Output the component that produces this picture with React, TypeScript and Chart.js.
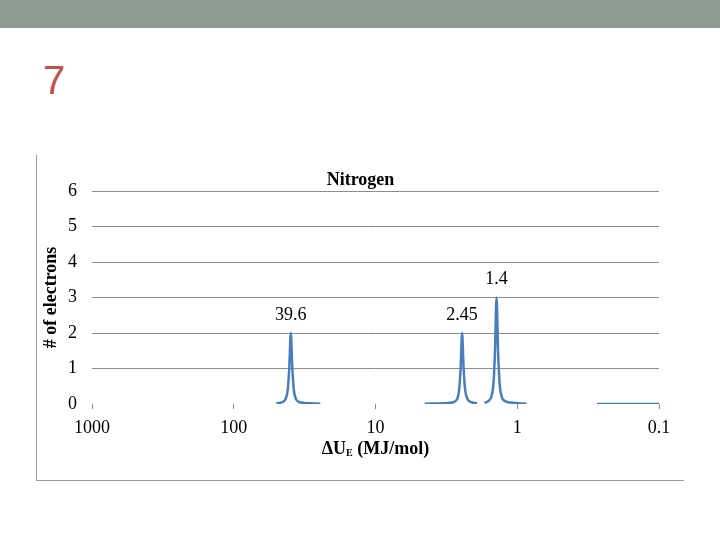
import React, { useEffect, useRef } from "react";
import { Chart, registerables } from "chart.js";

Chart.register(...registerables);

// ---- data ----
const slideNumber = "7";
const chartTitle = "Nitrogen";
const yAxisTitle = "# of electrons";
const xAxisTitleMain = "ΔU";
const xAxisTitleSub = "E";
const xAxisTitleRest = " (MJ/mol)";

const xTickValues = [1000, 100, 10, 1, 0.1];
const xTickLabels = ["1000", "100", "10", "1", "0.1"];
const yTickValues = [0, 1, 2, 3, 4, 5, 6];

// peak around 39.6 MJ/mol
const peak1X = [50, 45, 43, 41.6, 40.6, 39.6, 38.6, 37.7, 36.5, 34.8, 31.6, 24.5];
const peak1Y = [0.02, 0.06, 0.15, 0.4, 1.0, 2.0, 1.0, 0.4, 0.15, 0.06, 0.03, 0.01];
// peak around 2.45 MJ/mol
const peak2X = [4.5, 3.08, 2.79, 2.65, 2.57, 2.51, 2.45, 2.39, 2.33, 2.25, 2.14, 1.92];
const peak2Y = [0.01, 0.03, 0.06, 0.15, 0.4, 1.0, 2.0, 1.0, 0.4, 0.15, 0.06, 0.02];
// peak around 1.4 MJ/mol
const peak3X = [1.7, 1.594, 1.519, 1.47, 1.435, 1.4, 1.366, 1.333, 1.291, 1.229, 1.115, 0.86];
const peak3Y = [0.03, 0.09, 0.22, 0.6, 1.5, 3.0, 1.5, 0.6, 0.22, 0.09, 0.04, 0.01];
// flat tail near 0.1 MJ/mol
const tailX = [0.274, 0.1];
const tailY = [0.0, 0.0];

const peakLabelValues = [39.6, 2.45, 1.4];
const peakLabelHeights = [2, 2, 3];
const peakLabelTexts = ["39.6", "2.45", "1.4"];

const LINE_COLOR = "#4A7EBB";
const GRID_COLOR = "#8C8C8C";
const SERIF = "'Liberation Serif', 'Times New Roman', serif";

function toPoints(xs: number[], ys: number[]) {
  return xs.map((x, i) => ({ x, y: ys[i] }));
}

const textPlugin = {
  id: "customText",
  afterDraw(chart: any) {
    const ctx = chart.ctx as CanvasRenderingContext2D;
    const area = chart.chartArea;
    const xs = chart.scales.x;
    const ys = chart.scales.y;
    ctx.save();
    ctx.fillStyle = "#000";

    // peak labels
    ctx.font = `18px ${SERIF}`;
    ctx.textAlign = "center";
    ctx.textBaseline = "middle";
    peakLabelValues.forEach((v, i) => {
      const px = xs.getPixelForValue(v);
      const py = ys.getPixelForValue(peakLabelHeights[i]);
      ctx.fillText(peakLabelTexts[i], px, py - 18);
    });

    // chart title
    ctx.font = `bold 18px ${SERIF}`;
    ctx.fillText(chartTitle, chart.width / 2, 24);

    // y-axis title
    ctx.save();
    ctx.translate(14, (area.top + area.bottom) / 2);
    ctx.rotate(-Math.PI / 2);
    ctx.fillText(yAxisTitle, 0, 0);
    ctx.restore();

    // x-axis title with subscript
    const mainFont = `bold 18px ${SERIF}`;
    const subFont = `bold 10px ${SERIF}`;
    ctx.font = mainFont;
    const w1 = ctx.measureText(xAxisTitleMain).width;
    const w3 = ctx.measureText(xAxisTitleRest).width;
    ctx.font = subFont;
    const w2 = ctx.measureText(xAxisTitleSub).width;
    const total = w1 + w2 + w3;
    let x0 = (area.left + area.right) / 2 - total / 2;
    const ty = 293;
    ctx.textAlign = "left";
    ctx.font = mainFont;
    ctx.fillText(xAxisTitleMain, x0, ty);
    x0 += w1;
    ctx.font = subFont;
    ctx.fillText(xAxisTitleSub, x0, ty + 4);
    x0 += w2;
    ctx.font = mainFont;
    ctx.fillText(xAxisTitleRest, x0, ty);
    ctx.restore();
  },
};

function NitrogenChart() {
  const ref = useRef<HTMLCanvasElement | null>(null);
  useEffect(() => {
    if (!ref.current) return;
    const segs = [
      toPoints(peak1X, peak1Y),
      toPoints(peak2X, peak2Y),
      toPoints(peak3X, peak3Y),
      toPoints(tailX, tailY),
    ];
    const chart = new Chart(ref.current, {
      type: "scatter",
      data: {
        datasets: segs.map((d) => ({
          data: d,
          showLine: true,
          borderColor: LINE_COLOR,
          backgroundColor: LINE_COLOR,
          borderWidth: 2.5,
          pointRadius: 0,
          cubicInterpolationMode: "monotone" as const,
          tension: 0.4,
        })),
      },
      options: {
        responsive: false,
        maintainAspectRatio: false,
        animation: false,
        layout: { padding: { top: 35, right: 25, left: 0, bottom: 0 } },
        plugins: {
          legend: { display: false },
          title: { display: false },
          tooltip: { enabled: false },
        },
        scales: {
          x: {
            type: "logarithmic",
            reverse: true,
            min: 0.1,
            max: 1000,
            afterBuildTicks: (scale: any) => {
              scale.ticks = xTickValues.map((v) => ({ value: v }));
            },
            afterFit: (scale: any) => {
              scale.height = 75;
            },
            border: { display: false },
            grid: {
              drawOnChartArea: false,
              drawTicks: true,
              tickLength: 5,
              color: GRID_COLOR,
            },
            ticks: {
              autoSkip: false,
              maxRotation: 0,
              padding: 8,
              color: "#000",
              font: { family: SERIF, size: 18 },
              callback: (v: any) => {
                const i = xTickValues.indexOf(Number(v));
                return i >= 0 ? xTickLabels[i] : "";
              },
            },
          },
          y: {
            type: "linear",
            min: 0,
            max: 6,
            afterBuildTicks: (scale: any) => {
              scale.ticks = yTickValues.map((v) => ({ value: v }));
            },
            afterFit: (scale: any) => {
              scale.width = 55;
            },
            border: { display: false },
            grid: {
              drawTicks: false,
              color: (c: any) => (c.tick && c.tick.value === 0 ? "rgba(0,0,0,0)" : GRID_COLOR),
            },
            ticks: {
              padding: 15,
              color: "#000",
              font: { family: SERIF, size: 18 },
            },
          },
        },
      },
      plugins: [textPlugin],
    });
    return () => chart.destroy();
  }, []);
  return <canvas ref={ref} width={647} height={323} style={{ width: 647, height: 323, display: "block" }} />;
}

export default function App() {
  return (
    <div style={{ position: "fixed", left: 0, top: 0, width: 720, height: 540, background: "#fff", overflow: "hidden" }}>
      <div style={{ position: "absolute", left: 0, top: 0, width: 720, height: 28, background: "#8E9D93" }} />
      <div
        style={{
          position: "absolute",
          left: 43,
          top: 56,
          fontFamily: "'Liberation Sans', Arial, sans-serif",
          fontSize: 40,
          lineHeight: "48px",
          color: "#C0504D",
        }}
      >
        {slideNumber}
      </div>
      <div style={{ position: "absolute", left: 36, top: 155, width: 1, height: 326, background: "#999" }} />
      <div style={{ position: "absolute", left: 36, top: 480, width: 648, height: 1, background: "#999" }} />
      <div style={{ position: "absolute", left: 37, top: 156 }}>
        <NitrogenChart />
      </div>
    </div>
  );
}
